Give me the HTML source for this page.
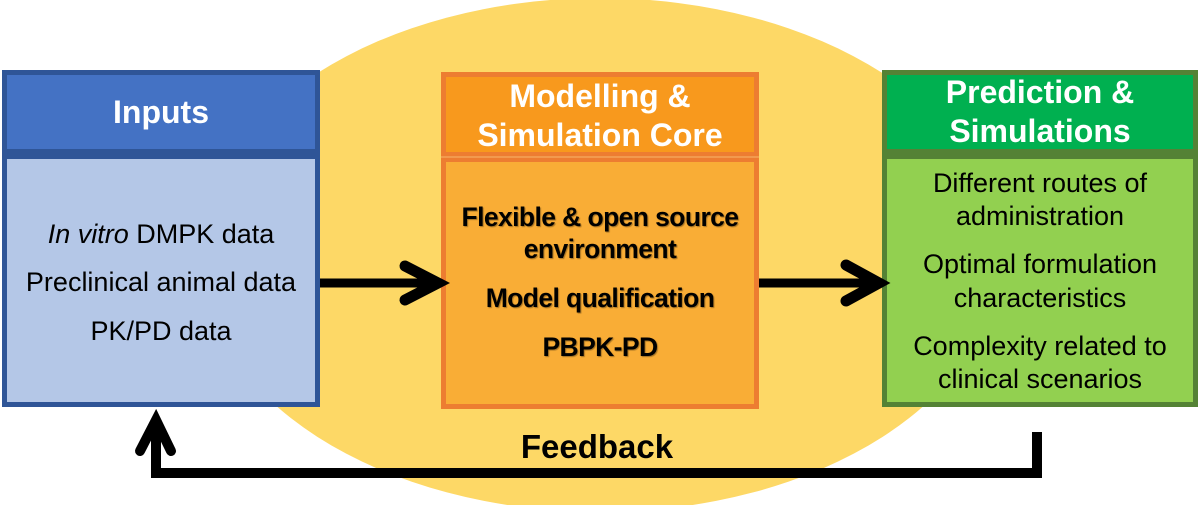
<!DOCTYPE html>
<html>
<head>
<meta charset="utf-8">
<style>
html,body{margin:0;padding:0;background:#fff;}
body{width:1200px;height:505px;overflow:hidden;}
svg{display:block;}
text{font-family:"Liberation Sans",Arial,sans-serif;}
</style>
</head>
<body>
<svg width="1200" height="505" viewBox="0 0 1200 505" xmlns="http://www.w3.org/2000/svg">
  <!-- background ellipse -->
  <ellipse cx="600" cy="255" rx="400" ry="257" fill="#FDD866"/>

  <!-- Inputs box -->
  <rect x="4.5" y="72.5" width="313" height="79" fill="#4472C4" stroke="#2F5597" stroke-width="5"/>
  <rect x="4.5" y="156.5" width="313" height="248" fill="#B4C7E7" stroke="#2F5597" stroke-width="5"/>
  <text x="161" y="123" font-size="32" font-weight="bold" fill="#fff" text-anchor="middle">Inputs</text>
  <g font-size="27" fill="#000" text-anchor="middle">
    <text x="161" y="243"><tspan font-style="italic">In vitro</tspan> DMPK data</text>
    <text x="161" y="291">Preclinical animal data</text>
    <text x="161" y="340">PK/PD data</text>
  </g>

  <!-- Middle box -->
  <rect x="443.5" y="74.5" width="313" height="80" fill="#F8991D" stroke="#ED7D31" stroke-width="5"/>
  <rect x="443.5" y="159.5" width="313" height="247" fill="#F9AD36" stroke="#ED7D31" stroke-width="5"/>
  <line x1="441" y1="157" x2="759" y2="157" stroke="#F6B66A" stroke-width="1"/>
  <g font-size="32" font-weight="bold" fill="#fff" text-anchor="middle">
    <text x="600" y="107">Modelling &amp;</text>
    <text x="600" y="146">Simulation Core</text>
  </g>
  <g font-size="26.5" font-weight="bold" fill="#000" text-anchor="middle" letter-spacing="-0.6" style="text-shadow:1px 1px 1px rgba(0,0,0,0.35)">
    <text x="600" y="226">Flexible &amp; open source</text>
    <text x="600" y="258">environment</text>
    <text x="600" y="307">Model qualification</text>
    <text x="600" y="356">PBPK-PD</text>
  </g>

  <!-- Right box -->
  <rect x="884.5" y="72.5" width="311" height="79" fill="#00B050" stroke="#548235" stroke-width="5"/>
  <rect x="884.5" y="156.5" width="311" height="248" fill="#92D050" stroke="#548235" stroke-width="5"/>
  <g font-size="32" font-weight="bold" fill="#fff" text-anchor="middle">
    <text x="1040" y="103">Prediction &amp;</text>
    <text x="1040" y="142">Simulations</text>
  </g>
  <g font-size="27" fill="#000" text-anchor="middle">
    <text x="1040" y="192">Different routes of</text>
    <text x="1040" y="225">administration</text>
    <text x="1040" y="273">Optimal formulation</text>
    <text x="1040" y="307">characteristics</text>
    <text x="1040" y="355">Complexity related to</text>
    <text x="1040" y="388">clinical scenarios</text>
  </g>

  <!-- Arrow 1 -->
  <line x1="320" y1="283" x2="436" y2="283" stroke="#000" stroke-width="9"/>
  <polyline points="405,266 438,283 405,300" fill="none" stroke="#000" stroke-width="11" stroke-linecap="round" stroke-linejoin="miter"/>

  <!-- Arrow 2 -->
  <line x1="759" y1="283" x2="877" y2="283" stroke="#000" stroke-width="9"/>
  <polyline points="846,265 879,283 846,301" fill="none" stroke="#000" stroke-width="11" stroke-linecap="round" stroke-linejoin="miter"/>

  <!-- Feedback loop -->
  <polyline points="1037,432 1037,473 156,473 156,424" fill="none" stroke="#000" stroke-width="10" stroke-linejoin="miter"/>
  <polyline points="140,451 156,420 171,451" fill="none" stroke="#000" stroke-width="10" stroke-linecap="round" stroke-linejoin="miter"/>
  <text x="597" y="458" font-size="33" font-weight="bold" fill="#000" text-anchor="middle">Feedback</text>
</svg>
</body>
</html>
